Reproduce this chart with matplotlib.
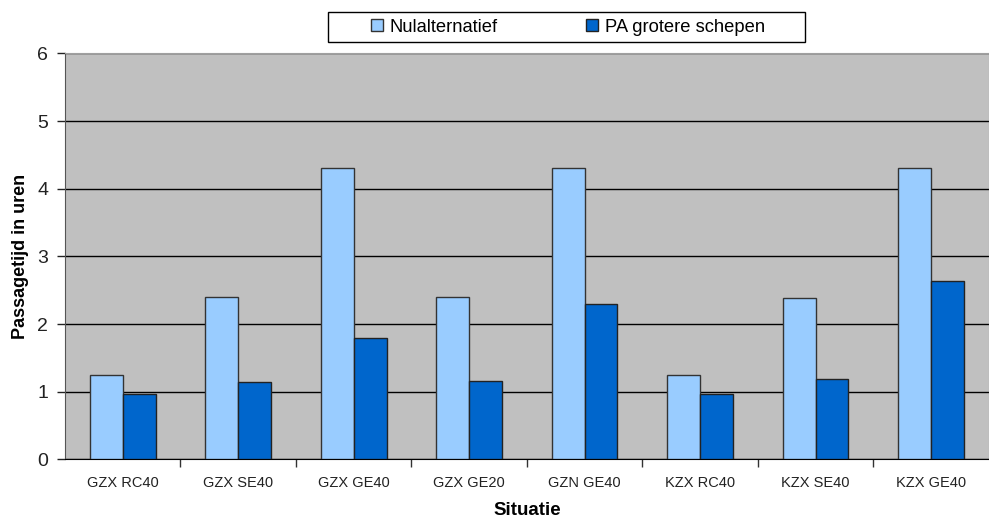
import matplotlib.pyplot as plt
import numpy as np
from matplotlib.patches import Rectangle

plt.rcParams['font.family'] = ['Liberation Sans', 'DejaVu Sans']

situaties = ["GZX RC40", "GZX SE40", "GZX GE40", "GZX GE20",
             "GZN GE40", "KZX RC40", "KZX SE40", "KZX GE40"]
nulalternatief = [1.25, 2.40, 4.31, 2.40, 4.31, 1.25, 2.39, 4.31]
pa_grotere_schepen = [0.96, 1.14, 1.79, 1.16, 2.30, 0.96, 1.18, 2.63]

W, H = 989, 519
fig = plt.figure(figsize=(W / 100, H / 100), dpi=100)
ax = fig.add_axes([0.0657, 0.115, 0.934, 0.782])
ax.set_facecolor("#c0c0c0")

x = np.arange(len(situaties))
w = 0.285
ax.bar(x - w / 2, nulalternatief, w, color="#99ccff", edgecolor="#333333",
       linewidth=1.0, label="Nulalternatief", zorder=3)
ax.bar(x + w / 2, pa_grotere_schepen, w, color="#0066cc", edgecolor="#222222",
       linewidth=1.0, label="PA grotere schepen", zorder=3)

ax.set_ylim(0, 6)
ax.set_xlim(-0.5, len(situaties) - 0.5)
ax.set_yticks(range(0, 7))
ax.yaxis.grid(True, color="black", linewidth=1.0, zorder=1)
ax.set_axisbelow(True)

# category labels in the middle, tick marks on the group boundaries
ax.set_xticks(x)
ax.set_xticklabels(situaties, fontsize=10.5, color="#222222")
ax.tick_params(axis="x", length=0, pad=12)
ax.set_xticks(np.arange(0.5, len(situaties) - 0.5), minor=True)
ax.tick_params(axis="x", which="minor", length=6, width=1, color="#333333")
ax.tick_params(axis="y", labelsize=14, length=6, width=1, pad=6, colors="#222222")

for side in ("top", "right"):
    ax.spines[side].set_color("#a0a0a0")
ax.spines["left"].set_color("#555555")
ax.spines["bottom"].set_color("black")

ax.set_ylabel("Passagetijd in uren", fontsize=13, fontweight="bold", labelpad=6)
ax.set_xlabel("Situatie", fontsize=13.5, fontweight="bold", labelpad=9)

# legend box drawn separately so it can be wider than its contents
fig.patches.append(Rectangle((328 / W, 1 - 42 / H), (805 - 328) / W, 30 / H,
                             transform=fig.transFigure, facecolor="white",
                             edgecolor="black", linewidth=1.0))
fig.legend(loc="center", bbox_to_anchor=(568 / W, 1 - 27 / H), ncol=2,
           fontsize=13.2, frameon=False,
           handlelength=0.65, handleheight=0.65, handletextpad=0.38,
           columnspacing=4.8, borderpad=0, borderaxespad=0)

fig.savefig("out.png", dpi=100)
